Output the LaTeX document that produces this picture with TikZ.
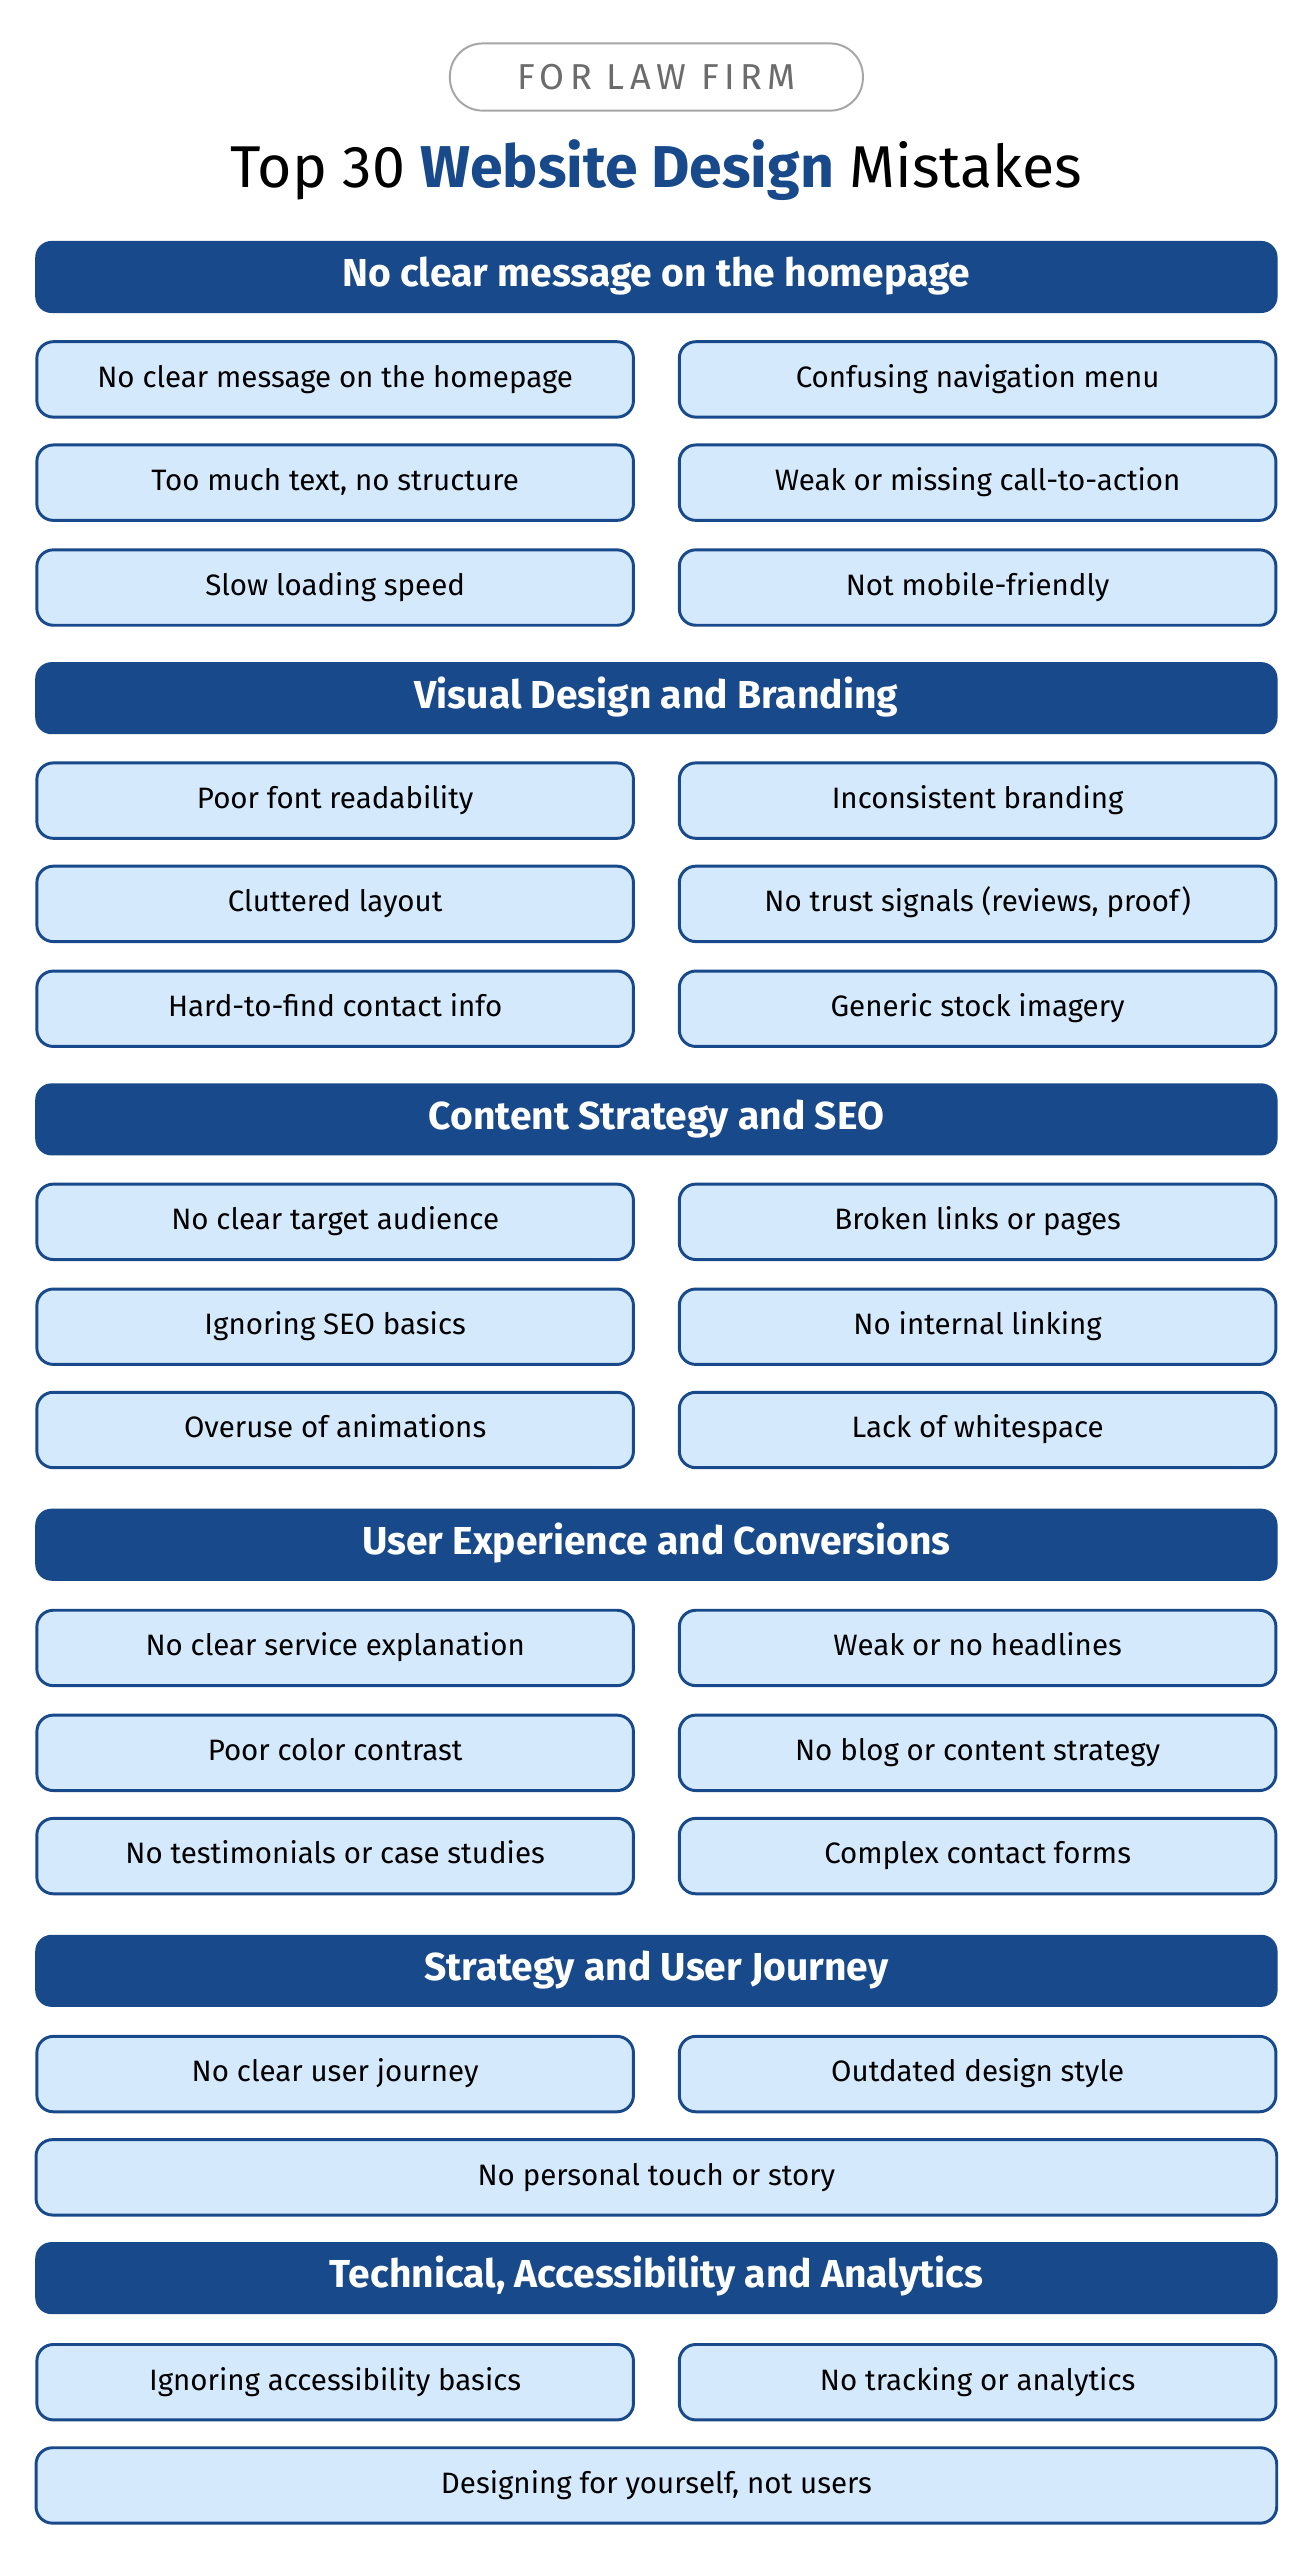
\documentclass[tikz,border=0pt]{standalone}
\usepackage{fontspec}
\setmainfont{Fira Sans}
\definecolor{dblue}{HTML}{18498A}
\definecolor{lblue}{HTML}{D5E9FC}
\begin{document}
\begin{tikzpicture}[x=0.5pt,y=-0.5pt,
 hdr/.style={draw=none,fill=dblue,rounded corners=5pt,minimum height=22pt,text=white,font=\fontsize{11.9}{13}\selectfont\bfseries,inner sep=0pt,text height=8.4pt,text depth=2.4pt},
 itm/.style={draw=dblue,line width=0.9pt,fill=lblue,rounded corners=5pt,minimum height=23pt,font=\fontsize{9}{10}\selectfont,inner sep=0pt,text height=6.7pt,text depth=1.9pt}]
\useasboundingbox[fill=white] (0,0) rectangle (800,1562);
\node[draw=gray!70,line width=0.6pt,rounded corners=10pt,minimum width=126pt,minimum height=20.5pt,text=gray!85!black,font=\fontsize{11}{12}\selectfont,inner sep=0pt] (badge) at (400.5,47) {\addfontfeature{LetterSpace=15}FOR LAW FIRM};
\node[font=\fontsize{18}{20}\selectfont] (title) at (400.5,104) {Top 30 \textcolor{dblue}{\bfseries Website Design} Mistakes};
\newcommand{\hd}[3]{\node[hdr,minimum width=379pt] (#1) at (400.5,#2) {#3};}
\newcommand{\lt}[3]{\node[itm,minimum width=182pt] (#1) at (204.5,#2) {#3};}
\newcommand{\rt}[3]{\node[itm,minimum width=182pt] (#1) at (596.5,#2) {#3};}
\newcommand{\fl}[3]{\node[itm,minimum width=378.5pt] (#1) at (400.5,#2) {#3};}
\hd{h1}{169}{No clear message on the homepage}
\lt{a1}{231.5}{No clear message on the homepage}\rt{b1}{231.5}{Confusing navigation menu}
\lt{a2}{294.5}{Too much text, no structure}\rt{b2}{294.5}{Weak or missing call-to-action}
\lt{a3}{358.5}{Slow loading speed}\rt{b3}{358.5}{Not mobile-friendly}
\hd{h2}{426}{Visual Design and Branding}
\lt{c1}{488.5}{Poor font readability}\rt{d1}{488.5}{Inconsistent branding}
\lt{c2}{551.5}{Cluttered layout}\rt{d2}{551.5}{No trust signals (reviews, proof)}
\lt{c3}{615.5}{Hard-to-find contact info}\rt{d3}{615.5}{Generic stock imagery}
\hd{h3}{683}{Content Strategy and SEO}
\lt{e1}{745.5}{No clear target audience}\rt{f1}{745.5}{Broken links or pages}
\lt{e2}{809.5}{Ignoring SEO basics}\rt{f2}{809.5}{No internal linking}
\lt{e3}{872.5}{Overuse of animations}\rt{f3}{872.5}{Lack of whitespace}
\hd{h4}{942.5}{User Experience and Conversions}
\lt{g1}{1005.5}{No clear service explanation}\rt{k1}{1005.5}{Weak or no headlines}
\lt{g2}{1069.5}{Poor color contrast}\rt{k2}{1069.5}{No blog or content strategy}
\lt{g3}{1132.5}{No testimonials or case studies}\rt{k3}{1132.5}{Complex contact forms}
\hd{h5}{1202.5}{Strategy and User Journey}
\lt{m1}{1265.5}{No clear user journey}\rt{n1}{1265.5}{Outdated design style}
\fl{m2}{1328.5}{No personal touch or story}
\hd{h6}{1390}{Technical, Accessibility and Analytics}
\lt{p1}{1453.5}{Ignoring accessibility basics}\rt{q1}{1453.5}{No tracking or analytics}
\fl{p2}{1516.5}{Designing for yourself, not users}
\end{tikzpicture}
\end{document}
